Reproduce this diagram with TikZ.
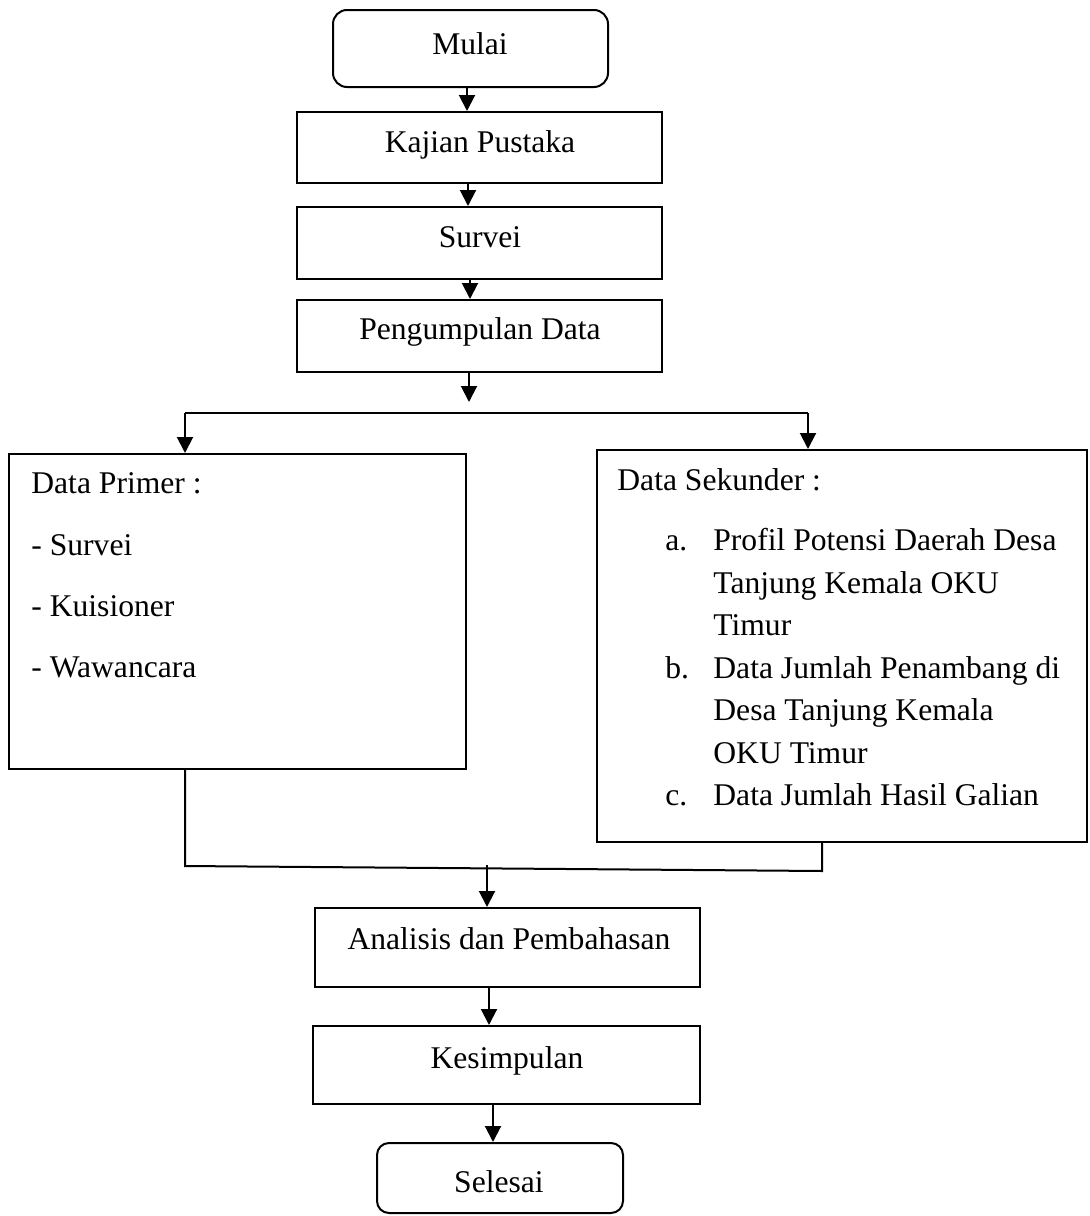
\documentclass[tikz,border=0pt]{standalone}
\usepackage{fontspec}
\setmainfont{Liberation Serif}
\usetikzlibrary{arrows.meta}
\begin{document}
\begin{tikzpicture}[x=0.5pt,y=-0.5pt,
  every node/.style={font=\fontsize{15.8}{19}\selectfont},
  boxnode/.style={draw,line width=1pt,inner sep=0pt,rectangle},
  roundnode/.style={draw,line width=1pt,inner sep=0pt,rectangle,rounded corners=7pt},
  txt/.style={inner sep=0pt,anchor=base},
  ltxt/.style={inner sep=0pt,anchor=base west},
  conn/.style={line width=1pt},
  arr/.style={line width=1pt,-{Triangle[length=8pt,width=8pt]}}]
\useasboundingbox (0,0) rectangle (1089,1216);

% boxes
\node[roundnode,minimum width=137.5pt,minimum height=38.5pt] (mulai) at (470.5,48.5) {};
\node[boxnode,minimum width=182.5pt,minimum height=35.5pt] (kajian) at (479.5,147.5) {};
\node[boxnode,minimum width=182.5pt,minimum height=36pt] (survei) at (479.5,243) {};
\node[boxnode,minimum width=182.5pt,minimum height=36pt] (kumpul) at (479.5,336) {};
\node[boxnode,minimum width=228.5pt,minimum height=157.5pt] (primer) at (237.5,611.5) {};
\node[boxnode,minimum width=245pt,minimum height=196pt] (sekunder) at (842,646) {};
\node[boxnode,minimum width=192.5pt,minimum height=39.5pt] (analisis) at (507.5,947.5) {};
\node[boxnode,minimum width=193.5pt,minimum height=39pt] (simpul) at (506.5,1065) {};
\node[roundnode,rounded corners=6pt,minimum width=123pt,minimum height=35pt] (selesai) at (500,1178) {};

% texts
\node[txt] (tmulai) at (470,54) {Mulai};
\node[txt] (tkajian) at (480,152) {Kajian Pustaka};
\node[txt] (tsurvei) at (480,247) {Survei};
\node[txt] (tkumpul) at (480,339) {Pengumpulan Data};
\node[ltxt] (p0) at (31,493) {Data Primer :};
\node[ltxt] (p1) at (31,555) {- Survei};
\node[ltxt] (p2) at (31,616) {- Kuisioner};
\node[ltxt] (p3) at (31,677) {- Wawancara};
\node[ltxt] (s0) at (617,490) {Data Sekunder :};
\node[ltxt] (la) at (665,550) {a.};
\node[ltxt] (s1) at (713,550) {Profil Potensi Daerah Desa};
\node[ltxt] (s2) at (713,593) {Tanjung Kemala OKU};
\node[ltxt] (s3) at (713,635) {Timur};
\node[ltxt] (lb) at (665,678) {b.};
\node[ltxt] (s4) at (713,678) {Data Jumlah Penambang di};
\node[ltxt] (s5) at (713,720) {Desa Tanjung Kemala};
\node[ltxt] (s6) at (713,763) {OKU Timur};
\node[ltxt] (lc) at (665,805) {c.};
\node[ltxt] (s7) at (713,805) {Data Jumlah Hasil Galian};
\node[txt] (tanalisis) at (509,949) {Analisis dan Pembahasan};
\node[txt] (tsimpul) at (507,1068) {Kesimpulan};
\node[txt] (tselesai) at (499,1192) {Selesai};

% junction coordinates
\coordinate (kend) at (469,402);
\coordinate (hl) at (185,413);
\coordinate (hr) at (808,413);
\coordinate (bl) at (185,866);
\coordinate (br) at (822,871);
\coordinate (bm) at (487,865);

% connectors
\draw[arr] (mulai.south -| 467,0) -- (kajian.north -| 467,0);
\draw[arr] (kajian.south -| 468,0) -- (survei.north -| 468,0);
\draw[arr] (survei.south -| 470,0) -- (kumpul.north -| 470,0);
\draw[arr] (kumpul.south -| kend) -- (kend);
\draw[conn] (hl) -- (hr);
\draw[arr] (hl) -- (primer.north -| hl);
\draw[arr] (hr) -- (sekunder.north -| hr);
\draw[conn] (primer.south -| bl) -- (bl) -- (br) -- (sekunder.south -| br);
\draw[arr] (bm) -- (analisis.north -| bm);
\draw[arr] (analisis.south -| 489,0) -- (simpul.north -| 489,0);
\draw[arr] (simpul.south -| 493,0) -- (selesai.north -| 493,0);
\end{tikzpicture}
\end{document}
